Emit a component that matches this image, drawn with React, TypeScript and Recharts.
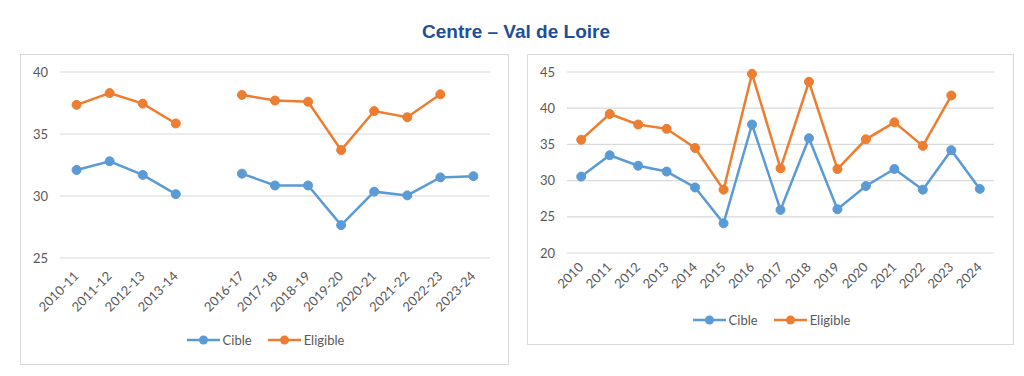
import { LineChart, Line, XAxis, YAxis, CartesianGrid } from 'recharts';

const BLUE = '#5B9BD5';
const ORANGE = '#ED7D31';
const GRID = '#D9D9D9';
const TEXT = '#595959';
const FONT = 'Lato, "Noto Sans", sans-serif';

// school years (left chart) - blank slot marks the missing seasons
const seasons = ['2010-11', '2011-12', '2012-13', '2013-14', '', '2016-17', '2017-18', '2018-19', '2019-20', '2020-21', '2021-22', '2022-23', '2023-24'];
const seasonCible = [32.1, 32.8, 31.7, 30.15, null, 31.8, 30.85, 30.85, 27.65, 30.35, 30.05, 31.5, 31.6];
const seasonEligible = [37.35, 38.3, 37.45, 35.85, null, 38.15, 37.7, 37.6, 33.7, 36.85, 36.35, 38.2, null];
const seasonTicks = [25, 30, 35, 40];

// calendar years (right chart)
const years = ['2010', '2011', '2012', '2013', '2014', '2015', '2016', '2017', '2018', '2019', '2020', '2021', '2022', '2023', '2024'];
const yearCible = [30.55, 33.5, 32.05, 31.25, 29.05, 24.1, 37.75, 25.95, 35.85, 26.05, 29.25, 31.6, 28.75, 34.2, 28.85];
const yearEligible = [35.65, 39.2, 37.75, 37.15, 34.5, 28.75, 44.75, 31.7, 43.65, 31.6, 35.7, 38.05, 34.8, 41.75, null];
const yearTicks = [20, 25, 30, 35, 40, 45];

const seasonData = seasons.map((label, i) => ({ label, cible: seasonCible[i], eligible: seasonEligible[i] }));
const yearData = years.map((label, i) => ({ label, cible: yearCible[i], eligible: yearEligible[i] }));

function SlantTick(props: any) {
  const { x, y, payload, ox, oy } = props;
  const tx = x + ox;
  const ty = y + oy;
  return (
    <text x={tx} y={ty} transform={`rotate(-45 ${tx} ${ty})`} textAnchor="end" fill={TEXT} fontSize={13} fontFamily={FONT}>
      {payload.value}
    </text>
  );
}

function LegendRow({ top }: { top: number }) {
  const items = [
    { name: 'Cible', color: BLUE },
    { name: 'Eligible', color: ORANGE },
  ];
  return (
    <div style={{ position: 'absolute', left: 2, right: 0, top, display: 'flex', justifyContent: 'center', gap: 16 }}>
      {items.map((it) => (
        <div key={it.name} style={{ display: 'flex', alignItems: 'center', gap: 3 }}>
          <svg width={33} height={10}>
            <line x1={0} y1={5} x2={33} y2={5} stroke={it.color} strokeWidth={2.5} />
            <circle cx={16.5} cy={5} r={4.5} fill={it.color} />
          </svg>
          <span style={{ fontFamily: FONT, fontSize: 13, color: TEXT, lineHeight: '16px' }}>{it.name}</span>
        </div>
      ))}
    </div>
  );
}

function Panel(props: any) {
  const { left, top, width, height, data, ticks, domain, margin, yWidth, xHeight, band, tickOffset, legendTop } = props;
  return (
    <div style={{ position: 'absolute', left, top, width, height, border: `1px solid ${GRID}`, boxSizing: 'border-box', background: '#fff' }}>
      <LineChart width={width - 2} height={height - 2} data={data} margin={margin}>
        <CartesianGrid vertical={false} stroke={GRID} strokeWidth={1.2} />
        <XAxis
          dataKey="label"
          axisLine={false}
          tickLine={false}
          tickSize={0}
          tickMargin={0}
          interval={0}
          height={xHeight}
          padding={{ left: band / 2, right: band / 2 }}
          tick={<SlantTick ox={tickOffset[0]} oy={tickOffset[1]} />}
        />
        <YAxis
          domain={domain}
          ticks={ticks}
          width={yWidth}
          axisLine={false}
          tickLine={false}
          tickSize={0}
          tickMargin={12}
          tick={{ fill: TEXT, fontSize: 13, fontFamily: FONT }}
        />
        <Line dataKey="cible" stroke={BLUE} strokeWidth={2.5} dot={{ r: 4.5, fill: BLUE, stroke: BLUE, strokeWidth: 1 }} isAnimationActive={false} />
        <Line dataKey="eligible" stroke={ORANGE} strokeWidth={2.5} dot={{ r: 4.5, fill: ORANGE, stroke: ORANGE, strokeWidth: 1 }} isAnimationActive={false} />
      </LineChart>
      <LegendRow top={legendTop} />
    </div>
  );
}

export default function App() {
  return (
    <div style={{ position: 'absolute', left: 0, top: 0, width: 1024, height: 376, background: '#fff', overflow: 'hidden' }}>
      <div style={{ position: 'absolute', left: 0, width: 1032, top: 20, textAlign: 'center', fontFamily: '"Liberation Sans", Arial, sans-serif', fontWeight: 'bold', fontSize: 19, color: '#1F4E99', lineHeight: '24px' }}>
        Centre – Val de Loire
      </div>
      <Panel
        left={20}
        top={54}
        width={489}
        height={311}
        data={seasonData}
        ticks={seasonTicks}
        domain={[25, 40]}
        margin={{ top: 17, right: 18, left: 0, bottom: 0 }}
        yWidth={39}
        xHeight={106}
        band={33.15}
        tickOffset={[3, 19]}
        legendTop={277}
      />
      <Panel
        left={527}
        top={54}
        width={487}
        height={291}
        data={yearData}
        ticks={yearTicks}
        domain={[20, 45]}
        margin={{ top: 17, right: 19, left: 0, bottom: 0 }}
        yWidth={39}
        xHeight={91}
        band={28.44}
        tickOffset={[3, 15]}
        legendTop={257}
      />
    </div>
  );
}
